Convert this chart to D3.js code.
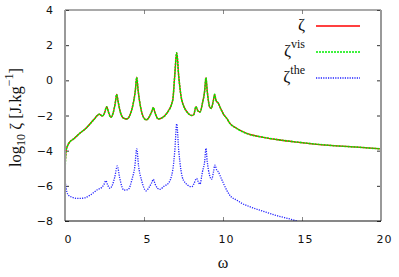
<!DOCTYPE html>
<html>
<head>
<meta charset="utf-8">
<script src="https://cdn.jsdelivr.net/npm/d3@7"></script>
<style>
  body { margin: 0; background: #fff; }
  svg { display: block; }
</style>
</head>
<body>
<svg id="chart"></svg>
<script>
// omega values and log10 zeta
var omegaTot = [0.00, 0.03, 0.07, 0.15, 0.32, 0.55, 0.95, 1.3, 1.8, 2.17, 2.38, 2.5, 2.64, 2.75, 2.9, 3.05, 3.18, 3.27, 3.36, 3.5, 3.7, 3.9, 4.1, 4.3, 4.45, 4.54, 4.63, 4.8, 5.0, 5.15, 5.35, 5.5, 5.59, 5.7, 5.9, 6.1, 6.44, 6.82, 6.94, 7.07, 7.2, 7.39, 7.8, 8.02, 8.15, 8.29, 8.42, 8.55, 8.7, 8.84, 8.92, 9.0, 9.15, 9.25, 9.38, 9.47, 9.56, 9.7, 9.85, 10.05, 10.25, 10.44, 10.8, 11.5, 12.55, 13.5, 14.66, 16.77, 18.5, 20.0]
var zeta = [-5.15, -4.5, -4.0, -3.75, -3.49, -3.33, -3.0, -2.75, -2.26, -1.93, -2.03, -1.85, -1.5, -1.8, -2.1, -1.85, -1.3, -0.8, -1.2, -1.8, -2.15, -2.2, -2.0, -1.4, -0.6, 0.17, -0.6, -1.6, -2.15, -2.25, -2.05, -1.75, -1.55, -1.85, -2.2, -2.15, -1.88, -1.12, 0.2, 1.57, 0.2, -1.12, -1.88, -2.0, -1.95, -1.5, -1.75, -1.8, -1.3, -0.6, 0.15, -0.6, -1.5, -1.6, -1.2, -0.8, -1.15, -1.3, -1.6, -1.95, -2.18, -2.45, -2.7, -3.02, -3.24, -3.38, -3.51, -3.7, -3.8, -3.9]
var zetaVis = [-5.15, -4.5, -4.0, -3.75, -3.49, -3.33, -3.0, -2.75, -2.26, -1.93, -2.03, -1.85, -1.5, -1.8, -2.1, -1.85, -1.3, -0.8, -1.2, -1.8, -2.15, -2.2, -2.0, -1.4, -0.6, 0.17, -0.6, -1.6, -2.15, -2.25, -2.05, -1.75, -1.55, -1.85, -2.2, -2.15, -1.88, -1.12, 0.2, 1.57, 0.2, -1.12, -1.88, -2.0, -1.95, -1.5, -1.75, -1.8, -1.3, -0.6, 0.15, -0.6, -1.5, -1.6, -1.2, -0.8, -1.15, -1.3, -1.6, -1.95, -2.18, -2.45, -2.7, -3.02, -3.24, -3.38, -3.51, -3.7, -3.8, -3.9]

var omegaThe = [0.00, 0.05, 0.12, 0.21, 0.45, 0.74, 1.0, 1.27, 1.55, 1.8, 2.05, 2.32, 2.45, 2.59, 2.7, 2.85, 3.0, 3.15, 3.31, 3.45, 3.6, 3.73, 4.0, 4.25, 4.42, 4.54, 4.66, 4.85, 5.13, 5.35, 5.5, 5.59, 5.7, 6.0, 6.3, 6.54, 6.82, 6.95, 7.07, 7.2, 7.49, 8.02, 8.15, 8.33, 8.45, 8.54, 8.7, 8.84, 8.92, 9.0, 9.15, 9.28, 9.4, 9.49, 9.6, 9.7, 9.9, 10.23, 10.44, 10.86, 11.2, 11.67, 12.55, 13.5, 14.3, 14.66]
var zetaThe = [-5.6, -6.0, -6.35, -6.52, -6.65, -6.71, -6.71, -6.68, -6.55, -6.39, -6.22, -6.09, -5.95, -5.71, -5.95, -6.14, -5.95, -5.5, -4.87, -5.5, -6.05, -6.24, -6.2, -5.6, -4.9, -3.9, -4.9, -5.7, -6.28, -6.05, -5.8, -5.63, -5.9, -6.2, -6.0, -5.86, -5.1, -4.0, -2.48, -4.0, -5.67, -6.05, -5.9, -5.58, -5.8, -5.9, -5.2, -4.6, -3.87, -4.6, -5.4, -5.63, -5.2, -4.82, -5.1, -5.2, -5.6, -6.24, -6.55, -6.81, -7.0, -7.18, -7.45, -7.72, -7.9, -8.0]

var xTicks = [0, 5, 10, 15, 20]
var yTicks = [4, 2, 0, -2, -4, -6, -8]

var width = 399, height = 277
var margin = {top: 10, right: 18, bottom: 56, left: 65}

var svg = d3.select('#chart')
    .attr("width", width)
    .attr("height", height)

var xScale = d3.scaleLinear()
    .domain([0, 20])
    .range([margin.left, width - margin.right])

var yScale = d3.scaleLinear()
    .domain([-8, 4])
    .range([height - margin.bottom, margin.top])

var x0 = margin.left, x1 = width - margin.right
var y0 = height - margin.bottom, y1 = margin.top

// ticks, inward and mirrored
var tickLen = 4
svg.append('g')
    .attr("transform", `translate(0,${y0})`)
    .call(d3.axisBottom(xScale).tickValues(xTicks).tickSizeInner(-tickLen).tickSizeOuter(0).tickFormat(""))
    .call(g => g.select(".domain").remove())
    .selectAll("line").attr("stroke", "#888")
svg.append('g')
    .attr("transform", `translate(0,${y1})`)
    .call(d3.axisTop(xScale).tickValues(xTicks).tickSizeInner(-tickLen).tickSizeOuter(0).tickFormat(""))
    .call(g => g.select(".domain").remove())
    .selectAll("line").attr("stroke", "#888")
svg.append('g')
    .attr("transform", `translate(${x0},0)`)
    .call(d3.axisLeft(yScale).tickValues(yTicks).tickSizeInner(-tickLen).tickSizeOuter(0).tickFormat(""))
    .call(g => g.select(".domain").remove())
    .selectAll("line").attr("stroke", "#333")
svg.append('g')
    .attr("transform", `translate(${x1},0)`)
    .call(d3.axisRight(yScale).tickValues(yTicks).tickSizeInner(-tickLen).tickSizeOuter(0).tickFormat(""))
    .call(g => g.select(".domain").remove())
    .selectAll("line").attr("stroke", "#333")

// tick labels
svg.append('g').selectAll("text")
    .data(xTicks)
    .enter()
    .append("text")
    .attr("x", d => xScale(d) + 3.5)
    .attr("y", y0 + 22)
    .attr("text-anchor", "middle")
    .style("font-family", "DejaVu Sans, sans-serif")
    .style("font-size", "11px")
    .style("letter-spacing", "1px")
    .attr("fill", "#111")
    .text(d => d)

svg.append('g').selectAll("text")
    .data(yTicks)
    .enter()
    .append("text")
    .attr("x", x0 - 12)
    .attr("y", d => yScale(d) + 4)
    .attr("text-anchor", "end")
    .style("font-family", "DejaVu Sans, sans-serif")
    .style("font-size", "11px")
    .attr("fill", "#111")
    .text(d => d < 0 ? "\u2212" + Math.abs(d) : d)

// curves
var clipId = "plotclip"
svg.append("clipPath").attr("id", clipId)
    .append("rect")
    .attr("x", x0).attr("y", y1)
    .attr("width", x1 - x0).attr("height", y0 - y1)

var line = d3.line()
    .x(d => xScale(d[0]))
    .y(d => yScale(d[1]))
    .curve(d3.curveMonotoneX)

var plot = svg.append('g').attr("clip-path", `url(#${clipId})`)

plot.append("path")
    .datum(d3.zip(omegaTot, zeta))
    .attr("d", line)
    .attr("fill", "none")
    .attr("stroke", "#ff0000")
    .attr("stroke-width", 1.3)

plot.append("path")
    .datum(d3.zip(omegaTot, zetaVis))
    .attr("d", line)
    .attr("fill", "none")
    .attr("stroke", "#00ee00")
    .attr("stroke-width", 1.6)
    .attr("stroke-dasharray", "2,1")

plot.append("path")
    .datum(d3.zip(omegaThe, zetaThe))
    .attr("d", line)
    .attr("fill", "none")
    .attr("stroke", "#2222ff")
    .attr("stroke-width", 1.3)
    .attr("stroke-dasharray", "1.2,1.2")

// border
svg.append("line").attr("x1", x0).attr("x2", x1).attr("y1", y1).attr("y2", y1)
    .attr("stroke", "#555").attr("stroke-width", 1.2)
svg.append("line").attr("x1", x1).attr("x2", x1).attr("y1", y1).attr("y2", y0)
    .attr("stroke", "#999").attr("stroke-width", 2)
svg.append("line").attr("x1", x0).attr("x2", x0).attr("y1", y1).attr("y2", y0)
    .attr("stroke", "#999").attr("stroke-width", 2)
svg.append("line").attr("x1", x0).attr("x2", x1).attr("y1", y0).attr("y2", y0)
    .attr("stroke", "#111").attr("stroke-width", 1.2)

// legend
var legend = [
    {name: "ζ", sup: "", color: "#ff0000", dash: null, w: 1.3},
    {name: "ζ", sup: "vis", color: "#00ee00", dash: "2,1", w: 1.6},
    {name: "ζ", sup: "the", color: "#2222ff", dash: "1.2,1.2", w: 1.3}
]
var lg = svg.append('g')
legend.forEach(function (d, i) {
    var ly = 26 + i * 26
    var t = lg.append("text")
        .attr("x", 305)
        .attr("y", ly + 4)
        .attr("text-anchor", "end")
        .style("font-family", "Liberation Serif, serif")
        .style("font-size", "17px")
        .attr("fill", "#111")
    t.append("tspan").text(d.name)
    if (d.sup) {
        t.append("tspan").attr("dy", -8).style("font-size", "12px").text(d.sup)
    }
    lg.append("line")
        .attr("x1", 316).attr("x2", 360)
        .attr("y1", ly).attr("y2", ly)
        .attr("stroke", d.color)
        .attr("stroke-width", d.w)
        .attr("stroke-dasharray", d.dash)
})

// axis titles
svg.append("text")
    .attr("x", (x0 + x1) / 2)
    .attr("y", 268)
    .attr("text-anchor", "middle")
    .style("font-family", "Liberation Serif, serif")
    .style("font-size", "16px")
    .attr("fill", "#111")
    .text("ω")

var yl = svg.append("text")
    .attr("transform", `translate(21,${(y0 + y1) / 2 + 2}) rotate(-90)`)
    .attr("text-anchor", "middle")
    .style("font-family", "Liberation Serif, serif")
    .style("font-size", "16.5px")
    .attr("fill", "#111")
yl.append("tspan").text("log")
yl.append("tspan").attr("dy", 4).style("font-size", "12px").text("10")
yl.append("tspan").attr("dy", -4).text(" ζ [J.kg")
yl.append("tspan").attr("dy", -8).style("font-size", "12px").text("\u22121")
yl.append("tspan").attr("dy", 8).text("]")
</script>
</body>
</html>
